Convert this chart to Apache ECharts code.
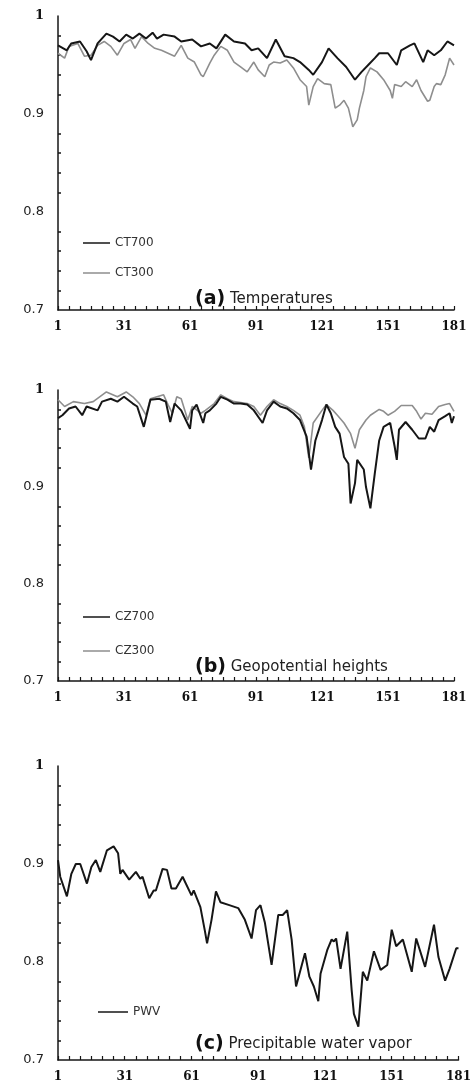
<!DOCTYPE html>
<html>
<head>
<meta charset="utf-8">
<script src="https://cdn.jsdelivr.net/npm/echarts@6/dist/echarts.min.js"></script>
<style>
    html, body { margin: 0; padding: 0; background: #fff; }
    #main { width: 474px; height: 1091px; }
</style>
</head>
<body>
<div id="main"></div>
<script>
// x轴: 第1天 ~ 第181天
var dayLabels = [];
for (var d = 1; d <= 181; d++) {
    dayLabels.push(String(d));
}

// (a) 温度 [day, value]
var ct700 = [[1,0.970],[5,0.965],[7,0.972],[11,0.974],[14,0.964],[16,0.955],[19,0.972],[23,0.982],[26,0.979],[29,0.974],
    [32,0.981],[35,0.977],[38,0.982],[41,0.977],[44,0.983],[46,0.977],[49,0.981],[54,0.979],[57,0.974],[62,0.976],
    [66,0.969],[70,0.972],[73,0.967],[77,0.981],[81,0.974],[86,0.972],[89,0.965],[92,0.967],[96,0.957],[100,0.976],
    [104,0.959],[108,0.957],[111,0.953],[115,0.945],[117,0.940],[121,0.953],[124,0.967],[128,0.957],[132,0.948],[136,0.935],
    [139,0.943],[142,0.950],[145,0.957],[147,0.962],[151,0.962],[155,0.950],[157,0.965],[161,0.970],[163,0.972],[167,0.953],
    [169,0.965],[172,0.960],[175,0.965],[178,0.974],[181,0.970]];
var ct300 = [[1,0.962],[4,0.957],[6,0.969],[10,0.972],[13,0.959],[16,0.960],[19,0.970],[22,0.974],[25,0.969],[28,0.960],
    [31,0.972],[34,0.976],[36,0.967],[39,0.979],[42,0.972],[45,0.967],[48,0.965],[51,0.962],[54,0.959],[57,0.970],
    [60,0.957],[63,0.953],[66,0.940],[67,0.938],[70,0.952],[72,0.960],[75,0.969],[78,0.965],[81,0.953],[84,0.948],
    [87,0.943],[90,0.953],[92,0.945],[95,0.938],[97,0.950],[99,0.953],[102,0.952],[105,0.955],[108,0.947],[111,0.935],
    [114,0.928],[115,0.909],[117,0.928],[119,0.936],[122,0.931],[125,0.930],[127,0.906],[129,0.909],[131,0.914],[133,0.906],
    [135,0.887],[137,0.894],[138,0.906],[140,0.924],[141,0.938],[143,0.947],[146,0.943],[149,0.935],[152,0.924],[153,0.916],
    [154,0.930],[157,0.928],[159,0.933],[162,0.928],[164,0.935],[166,0.924],[169,0.913],[170,0.914],[172,0.928],[173,0.931],
    [175,0.930],[177,0.940],[179,0.957],[181,0.950]];

// (b) 位势高度
var cz700 = [[1,0.971],[3,0.974],[6,0.981],[9,0.983],[12,0.974],[14,0.983],[19,0.979],[21,0.988],[25,0.991],[28,0.988],
    [31,0.993],[35,0.986],[37,0.983],[40,0.962],[43,0.990],[47,0.991],[50,0.988],[52,0.967],[54,0.986],[57,0.979],
    [61,0.960],[62,0.979],[64,0.985],[67,0.966],[68,0.976],[70,0.979],[73,0.986],[75,0.993],[78,0.990],[81,0.986],
    [84,0.986],[87,0.985],[90,0.979],[94,0.966],[96,0.979],[99,0.988],[102,0.983],[105,0.981],[108,0.976],[111,0.969],
    [114,0.952],[116,0.918],[118,0.948],[121,0.969],[123,0.985],[125,0.976],[127,0.962],[129,0.955],[131,0.931],[133,0.924],
    [134,0.883],[136,0.904],[137,0.928],[140,0.918],[141,0.900],[143,0.878],[145,0.914],[147,0.948],[149,0.962],[152,0.966],
    [154,0.942],[155,0.928],[156,0.959],[159,0.967],[162,0.959],[165,0.950],[168,0.950],[170,0.962],[172,0.957],[174,0.969],
    [177,0.973],[179,0.976],[180,0.966],[181,0.973]];
var cz300 = [[1,0.990],[4,0.983],[8,0.988],[13,0.986],[17,0.988],[23,0.998],[28,0.993],[32,0.998],[35,0.993],[38,0.986],
    [41,0.974],[43,0.991],[49,0.995],[51,0.985],[53,0.976],[55,0.993],[57,0.991],[60,0.969],[62,0.983],[66,0.976],
    [68,0.979],[72,0.986],[75,0.995],[78,0.991],[81,0.988],[84,0.987],[87,0.986],[90,0.983],[93,0.974],[96,0.983],
    [99,0.990],[102,0.986],[105,0.983],[108,0.979],[111,0.974],[113,0.962],[115,0.930],[117,0.966],[121,0.979],[123,0.985],
    [126,0.979],[128,0.974],[131,0.966],[134,0.955],[136,0.940],[138,0.959],[141,0.969],[143,0.974],[147,0.980],[149,0.978],
    [151,0.974],[154,0.978],[157,0.984],[162,0.984],[164,0.978],[166,0.970],[168,0.976],[171,0.975],[174,0.983],[177,0.985],
    [179,0.986],[181,0.978]];

// (c) 可降水量
var pwv = [[1,0.904],[2,0.887],[5,0.867],[7,0.890],[9,0.900],[11,0.900],[14,0.880],[16,0.897],[18,0.904],[20,0.892],
    [23,0.914],[26,0.918],[28,0.911],[29,0.890],[30,0.894],[33,0.884],[36,0.892],[38,0.885],[39,0.887],[42,0.865],
    [44,0.873],[45,0.873],[48,0.895],[50,0.894],[52,0.875],[54,0.875],[57,0.887],[61,0.868],[62,0.873],[65,0.856],
    [67,0.832],[68,0.819],[70,0.843],[72,0.872],[74,0.861],[78,0.858],[82,0.855],[85,0.843],[88,0.824],[90,0.853],
    [92,0.858],[94,0.840],[97,0.797],[100,0.848],[102,0.848],[104,0.853],[106,0.823],[108,0.775],[112,0.809],[114,0.785],
    [116,0.775],[118,0.760],[119,0.788],[122,0.812],[124,0.823],[125,0.821],[126,0.824],[128,0.793],[131,0.831],[133,0.771],
    [134,0.747],[136,0.734],[138,0.790],[140,0.781],[143,0.811],[146,0.792],[149,0.797],[151,0.833],[153,0.816],[156,0.823],
    [160,0.790],[162,0.824],[166,0.795],[170,0.838],[172,0.805],[175,0.781],[177,0.793],[180,0.814],[181,0.814]];

var BLACK = '#161616';
var GRAY = '#8e8e8e';

// 三个面板
var panels = [
    {
        grid: {left: 58, top: 16, width: 396, height: 294},
        tag: '(a)', name: 'Temperatures', titleTop: 290,
        legendTop: 237, legendLeft: 83, legendGap: 18, itemWidth: 27,
        lines: [
            {name: 'CT300', data: ct300, color: GRAY, width: 1.6},
            {name: 'CT700', data: ct700, color: BLACK, width: 2}
        ],
        legend: ['CT700', 'CT300']
    },
    {
        grid: {left: 58, top: 390, width: 396, height: 291},
        tag: '(b)', name: 'Geopotential heights', titleTop: 658,
        legendTop: 611, legendLeft: 83, legendGap: 22, itemWidth: 27,
        lines: [
            {name: 'CZ300', data: cz300, color: GRAY, width: 1.6},
            {name: 'CZ700', data: cz700, color: BLACK, width: 2}
        ],
        legend: ['CZ700', 'CZ300']
    },
    {
        grid: {left: 58, top: 766, width: 403, height: 294},
        tag: '(c)', name: 'Precipitable water vapor', titleTop: 1035,
        legendTop: 1006, legendLeft: 98, legendGap: 16, itemWidth: 30,
        lines: [
            {name: 'PWV', data: pwv, color: BLACK, width: 2}
        ],
        legend: ['PWV']
    }
];

function toIndex(arr) {
    return arr.map(function (p) {
        return [p[0] - 1, p[1]];
    });
}

var option = {
    backgroundColor: '#fff',
    animation: false,
    grid: [], xAxis: [], yAxis: [], series: [], legend: [], title: []
};

panels.forEach(function (p, i) {
    option.grid.push(p.grid);
    option.xAxis.push({
        type: 'category',
        gridIndex: i,
        data: dayLabels,
        boundaryGap: false,
        axisLine: {lineStyle: {color: BLACK, width: 1.5}},
        axisTick: {inside: true, interval: 4, length: 4, lineStyle: {color: BLACK, width: 1.2}},
        axisLabel: {
            interval: 29, margin: 11, color: '#111',
            fontFamily: 'DejaVu Serif', fontWeight: 'bold', fontSize: 12
        },
        splitLine: {show: false}
    });
    option.yAxis.push({
        type: 'value',
        gridIndex: i,
        min: 0.7, max: 1, interval: 0.1,
        axisLine: {show: true, lineStyle: {color: BLACK, width: 1.5}},
        axisTick: {inside: true, length: 3, lineStyle: {color: BLACK, width: 1.5}},
        minorTick: {show: true, splitNumber: 5, length: 3, lineStyle: {color: BLACK, width: 1.5}},
        splitLine: {show: false},
        axisLabel: {
            margin: 14, color: '#222', fontFamily: 'DejaVu Sans', fontSize: 13,
            formatter: function (v) {
                return v > 0.999 ? '{s|1}' : v.toFixed(1);
            },
            rich: {s: {fontFamily: 'DejaVu Serif', fontWeight: 'bold', fontSize: 13, color: '#111'}}
        }
    });
    p.lines.forEach(function (l) {
        option.series.push({
            type: 'line',
            name: l.name,
            xAxisIndex: i,
            yAxisIndex: i,
            data: toIndex(l.data),
            showSymbol: false,
            symbol: 'none',
            color: l.color,
            lineStyle: {color: l.color, width: l.width}
        });
    });
    option.legend.push({
        data: p.legend,
        orient: 'vertical',
        left: p.legendLeft, top: p.legendTop,
        padding: 0,
        icon: 'rect', itemWidth: p.itemWidth, itemHeight: 1.5, itemGap: p.legendGap,
        textStyle: {fontFamily: 'DejaVu Sans', fontSize: 12, color: '#333'}
    });
    option.title.push({
        left: 195, top: p.titleTop, padding: 0,
        text: '{b|' + p.tag + '}{n| ' + p.name + '}',
        textStyle: {
            rich: {
                b: {fontFamily: 'DejaVu Sans', fontWeight: 'bold', fontSize: 19, color: '#111'},
                n: {fontFamily: 'DejaVu Sans', fontWeight: 'normal', fontSize: 15, color: '#222'}
            }
        }
    });
});

var chart = echarts.init(document.getElementById('main'), null, {renderer: 'canvas'});
chart.setOption(option);
</script>
</body>
</html>
